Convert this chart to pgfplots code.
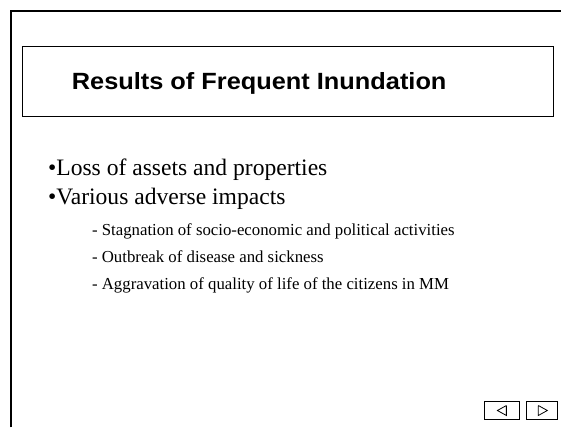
\documentclass[border=0pt]{standalone}
\usepackage{fontspec}
\setmainfont{Liberation Serif}
\newfontfamily\arialfont{Liberation Sans}
\usepackage{pgfplots}
\pgfplotsset{compat=1.18}
\begin{document}
\begin{tikzpicture}
\begin{axis}[
  width=562bp, height=428bp, scale only axis,
  xmin=0, xmax=562, ymin=0, ymax=428, y dir=reverse,
  hide axis, clip=false]
\path (axis cs:0,0) rectangle (axis cs:562,428);
% outer frame
\addplot[black, line width=1.4pt] coordinates {(11,428) (11,11) (562,11)};
% title box
\addplot[black, line width=0.9pt] coordinates {(22,47) (554,47) (554,117) (22,117) (22,47)};
% navigation buttons
\addplot[black, line width=1.1pt] coordinates {(485,402) (520,402) (520,420) (485,420) (485,402)};
\addplot[black, line width=1.1pt] coordinates {(527,402) (558,402) (558,420) (527,420) (527,402)};
\addplot[black, line width=0.8pt] coordinates {(507,406) (498,411) (507,416) (507,406)};
\addplot[black, line width=0.8pt] coordinates {(539,406) (548,411) (539,416) (539,406)};
% texts
\node[anchor=base, inner sep=0pt, xscale=1.08, font=\arialfont\bfseries\fontsize{23.5bp}{28bp}\selectfont] at (axis cs:259.5,90) {Results of Frequent Inundation};
\node[anchor=base west, inner sep=0pt, font=\fontsize{23.6bp}{28bp}\selectfont] at (axis cs:48,176) {•Loss of assets and properties};
\node[anchor=base west, inner sep=0pt, font=\fontsize{23.6bp}{28bp}\selectfont] at (axis cs:48,205) {•Various adverse impacts};
\node[anchor=base west, inner sep=0pt, font=\fontsize{16.8bp}{20bp}\selectfont] at (axis cs:92,236) {- Stagnation of socio-economic and political activities};
\node[anchor=base west, inner sep=0pt, font=\fontsize{16.8bp}{20bp}\selectfont] at (axis cs:92,263) {- Outbreak of disease and sickness};
\node[anchor=base west, inner sep=0pt, font=\fontsize{16.8bp}{20bp}\selectfont] at (axis cs:92,290) {- Aggravation of quality of life of the citizens in MM};
\end{axis}
\end{tikzpicture}
\end{document}
